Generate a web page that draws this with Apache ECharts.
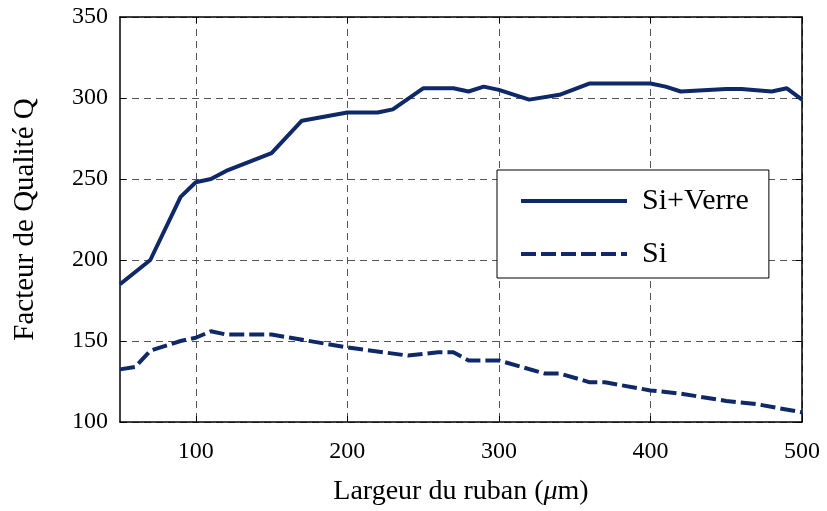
<!DOCTYPE html>
<html>
<head>
<meta charset="utf-8">
<script src="https://cdn.jsdelivr.net/npm/echarts@6/dist/echarts.min.js"></script>
<style>html,body{margin:0;padding:0;background:#fff}#c{width:827px;height:511px}</style>
</head>
<body>
<div id="c"></div>
<script>
const siVerreX = [50, 70, 90, 100, 110, 120, 150, 170, 200, 220, 230, 250, 270, 280, 290, 300, 320, 340, 360, 400, 410, 420, 450, 460, 480, 490, 500];
const siVerreY = [185, 200, 239, 248, 250, 255, 266, 286, 291, 291, 293, 306, 306, 304, 307, 305, 299, 302, 309, 309, 307, 304, 305.5, 305.5, 304, 306, 299];
const siX = [50, 60, 70, 90, 100, 110, 120, 150, 200, 240, 260, 270, 280, 300, 330, 340, 360, 370, 400, 420, 450, 470, 500];
const siY = [132.5, 134, 144, 150, 152, 156, 154, 154, 146, 141, 143, 143, 138, 138, 130, 130, 124.5, 124.5, 119.5, 117.5, 113, 111, 106];
const seriesNames = ['Si+Verre', 'Si'];
const xTicks = [100, 200, 300, 400, 500];
const yTicks = [100, 150, 200, 250, 300, 350];
const xTitle = 'Largeur du ruban ({i|μ}m)';
const yTitle = 'Facteur de Qualité Q';

const FONT = '"Liberation Serif", "DejaVu Serif", serif';
const NAVY = '#0f2868';
const zip = (a, b) => a.map((v, i) => [v, b[i]]);

const chart = echarts.init(document.getElementById('c'), null, {renderer: 'canvas'});
const gridLine = {show: true, lineStyle: {color: '#555', width: 1, type: [7, 5]}};
chart.setOption({
  animation: false,
  backgroundColor: '#fff',
  grid: {left: 120, top: 17, right: 25, bottom: 84, containLabel: false},
  xAxis: [{
    type: 'value', min: 50, max: 500, interval: 50,
    axisLine: {show: true, onZero: false, lineStyle: {color: '#000', width: 1.5}},
    axisTick: {show: true, inside: true, length: 6, lineStyle: {color: '#000'},
      customValues: xTicks},
    axisLabel: {color: '#000', fontFamily: FONT, fontSize: 24, margin: 18,
      customValues: xTicks},
    splitLine: gridLine,
    name: xTitle, nameLocation: 'middle', nameGap: 56,
    nameTextStyle: {color: '#000', fontFamily: FONT, fontSize: 28,
      rich: {i: {fontStyle: 'italic', fontFamily: FONT, fontSize: 28, color: '#000'}}}
  }, {
    type: 'value', position: 'top', min: 50, max: 500, interval: 50,
    axisLine: {show: true, onZero: false, lineStyle: {color: '#000', width: 1.5}},
    axisTick: {show: true, inside: true, length: 6, lineStyle: {color: '#000'}, customValues: xTicks},
    axisLabel: {show: false}, splitLine: {show: false}
  }],
  yAxis: [{
    type: 'value', min: 100, max: 350, interval: 50,
    axisLine: {show: true, onZero: false, lineStyle: {color: '#000', width: 1.5}},
    axisTick: {show: true, inside: true, length: 6, lineStyle: {color: '#000'}},
    axisLabel: {color: '#000', fontFamily: FONT, fontSize: 24, margin: 12,
      customValues: yTicks},
    splitLine: gridLine,
    name: yTitle, nameLocation: 'middle', nameGap: 80, nameRotate: 90,
    nameTextStyle: {color: '#000', fontFamily: FONT, fontSize: 29}
  }, {
    type: 'value', position: 'right', min: 100, max: 350, interval: 50,
    axisLine: {show: true, onZero: false, lineStyle: {color: '#000', width: 1.5}},
    axisTick: {show: true, inside: true, length: 6, lineStyle: {color: '#000'}},
    axisLabel: {show: false}, splitLine: {show: false}
  }],
  legend: {
    orient: 'vertical', left: 497, top: 170,
    backgroundColor: '#fff', borderColor: '#000', borderWidth: 1, borderRadius: 0,
    padding: [16, 20, 9, 22], itemGap: 23,
    itemWidth: 106, itemHeight: 24,
    itemStyle: {opacity: 0},
    lineStyle: {width: 4},
    textStyle: {color: '#000', fontFamily: FONT, fontSize: 30, padding: [0, 0, 0, 10]},
    data: seriesNames
  },
  series: [{
    name: seriesNames[0], type: 'line', data: zip(siVerreX, siVerreY),
    symbol: 'none', lineStyle: {color: NAVY, width: 4}, itemStyle: {color: NAVY}, z: 3
  }, {
    name: seriesNames[1], type: 'line', data: zip(siX, siY),
    symbol: 'none', lineStyle: {color: NAVY, width: 4, type: [15, 5]}, itemStyle: {color: NAVY}, z: 3
  }]
});
</script>
</body>
</html>
